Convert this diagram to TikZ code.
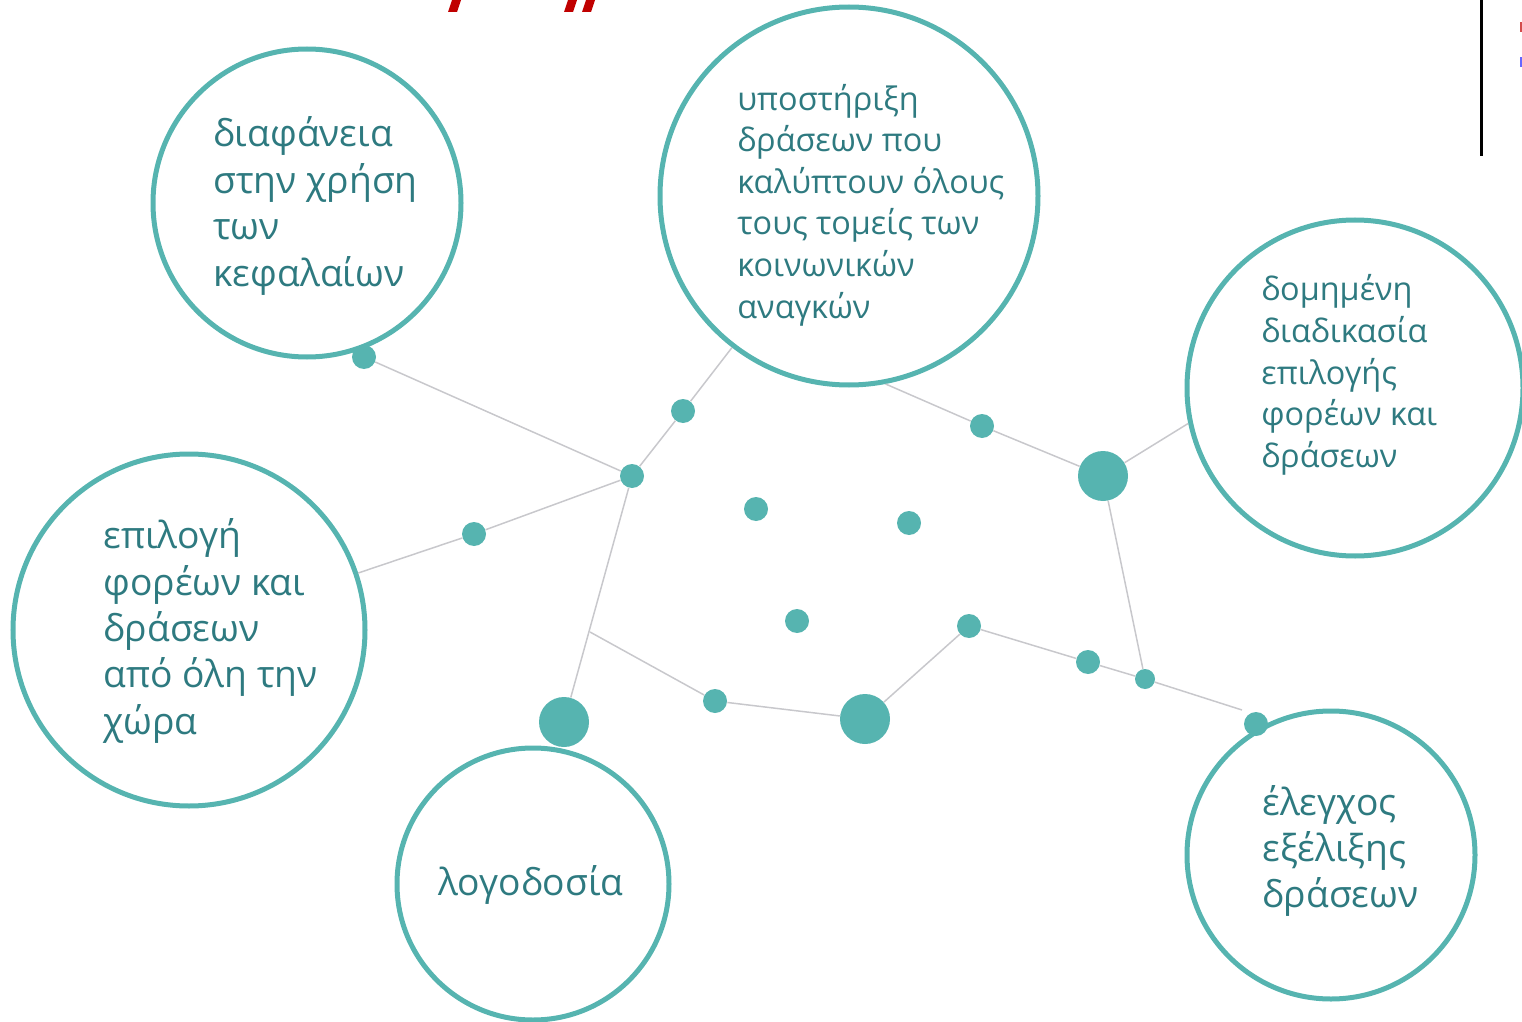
\documentclass[tikz,border=0pt]{standalone}
\usepackage{fontspec}
\setmainfont{Open Sans}
\usepackage{xcolor}
\usepackage{tikz}
\usetikzlibrary{positioning}
\definecolor{teal1}{HTML}{56B4B0}
\definecolor{tealtext}{HTML}{2E7A80}
\definecolor{linkgray}{HTML}{C8C8CC}
\definecolor{titlered}{HTML}{C00000}

\begin{document}
\begin{tikzpicture}[x=0.5pt,y=-0.5pt,
	bubble/.style={circle,draw=teal1,line width=2.5pt,inner sep=0pt},
	dot/.style={circle,fill=teal1,inner sep=0pt,minimum size=12pt},
	bigdot/.style={circle,fill=teal1,inner sep=0pt,minimum size=25pt},
	link/.style={draw=linkgray,line width=0.75pt},
	bigtext/.style={anchor=west,align=left,inner sep=0pt,text=tealtext,font=\fontsize{18.6}{23.2}\selectfont},
	smalltext/.style={anchor=west,align=left,inner sep=0pt,text=tealtext,font=\fontsize{16.2}{20.8}\selectfont},
	]
\useasboundingbox (0,0) rectangle (1522,1022);

% cut-off title and side marks
\fill[titlered] (452,0) -- (461,0) -- (457,12) -- (448,12) -- cycle;
\fill[titlered] (568,0) -- (577,0) -- (573,12) -- (564,12) -- cycle;
\fill[titlered] (586,0) -- (595,0) -- (591,12) -- (582,12) -- cycle;
\draw[line width=1.5pt] (1481,0) -- (1481,156);
\fill[titlered!70] (1520,22) rectangle (1522,32);
\fill[blue!60] (1520,57) rectangle (1522,67);

% the bubbles
\node[bubble,minimum size=154pt] (A) at (307,203) {};
\node[bubble,minimum size=189pt] (B) at (849,196) {};
\node[bubble,minimum size=168pt] (C) at (1355,388) {};
\node[bubble,minimum size=176pt] (D) at (189,630) {};
\node[bubble,minimum size=136pt] (E) at (533,884) {};
\node[bubble,minimum size=144pt] (F) at (1331,855) {};

\node[bigtext] (tA) at (213,206) {διαφάνεια\\στην χρήση\\των\\κεφαλαίων};
\node[smalltext] (tB) at (737,205) {υποστήριξη\\δράσεων που\\καλύπτουν όλους\\τους τομείς των\\κοινωνικών\\αναγκών};
\node[smalltext] (tC) at (1261,375) {δομημένη\\διαδικασία\\επιλογής\\φορέων και\\δράσεων};
\node[bigtext] (tD) at (103,631) {επιλογή\\φορέων και\\δράσεων\\από όλη την\\χώρα};
\node[bigtext] (tE) at (438,885) {λογοδοσία};
\node[bigtext] (tF) at (1262,851) {έλεγχος\\εξέλιξης\\δράσεων};

% the dots
\node[dot] (d1) at (364,357) {};
\node[dot] (d2) at (683,411) {};
\node[dot] (d3) at (632,476) {};
\node[dot] (d4) at (474,534) {};
\node[dot] (d5) at (756,509) {};
\node[dot] (d6) at (909,523) {};
\node[dot] (d7) at (797,621) {};
\node[dot] (d8) at (715,701) {};
\node[bigdot] (d9) at (564,722) {};
\node[bigdot] (d10) at (865,719) {};
\node[dot] (d11) at (969,626) {};
\node[dot] (d12) at (1088,662) {};
\node[dot,minimum size=10pt] (d13) at (1145,679) {};
\node[bigdot] (d14) at (1103,476) {};
\node[dot] (d15) at (982,426) {};
\node[dot] (d16) at (1256,724) {};

\coordinate (s1) at (590,632);
\coordinate (s2) at (1242,710);

% the network
\draw[link] (d1) -- (d3);
\draw[link] (D) -- (d4);
\draw[link] (d4) -- (d3);
\draw[link] (d3) -- (d2);
\draw[link] (d2) -- (B);
\draw[link] (d3) -- (d9);
\draw[link] (s1) -- (d8);
\draw[link] (d8) -- (d10);
\draw[link] (d10) -- (d11);
\draw[link] (d11) -- (d12);
\draw[link] (d12) -- (d13);
\draw[link] (d13) -- (s2);
\draw[link] (d14) -- (d13);
\draw[link] (B.281) -- (d15);
\draw[link] (d15) -- (d14);
\draw[link] (d14) -- (C.192);
\end{tikzpicture}
\end{document}
